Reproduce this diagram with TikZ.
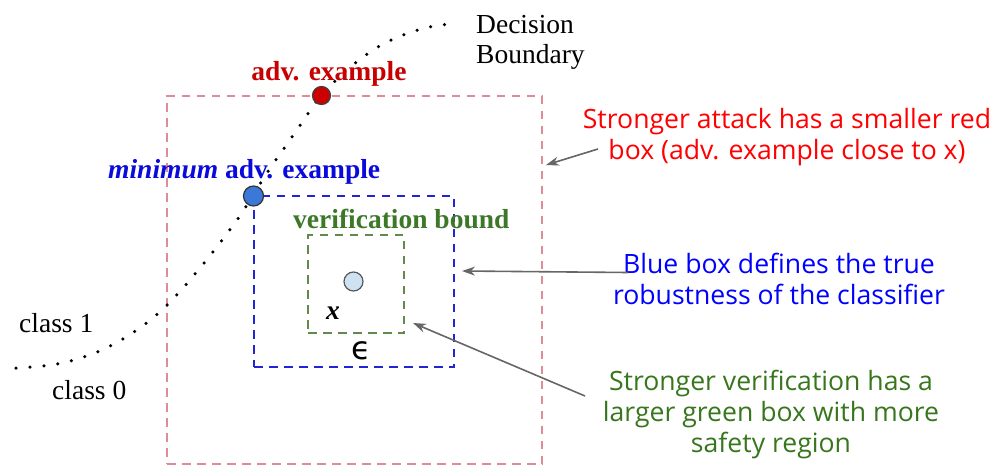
\documentclass[tikz,border=0pt]{standalone}
\usepackage{fontspec}
\setmainfont{Liberation Serif}
\newfontfamily\osans{Open Sans}
\newfontfamily\dejavu{DejaVu Sans}
\usetikzlibrary{arrows.meta}
\definecolor{boxred}{RGB}{222,140,150}
\definecolor{boxblue}{RGB}{35,35,215}
\definecolor{boxgreen}{RGB}{98,138,76}
\definecolor{txtred}{RGB}{255,0,0}
\definecolor{txtblue}{RGB}{0,0,255}
\definecolor{txtgreen}{RGB}{56,118,29}
\definecolor{advred}{RGB}{200,0,0}
\definecolor{advblue}{RGB}{10,10,220}
\definecolor{vgreen}{RGB}{60,120,40}
\definecolor{arrowgray}{RGB}{102,102,102}
\definecolor{ptred}{RGB}{204,0,0}
\definecolor{ptblue}{RGB}{60,120,216}
\definecolor{ptlight}{RGB}{207,226,243}
\tikzset{
  regionbox/.style={rectangle, inner sep=0pt, line width=2pt, dash pattern=on 8.5pt off 6.5pt},
  ptdot/.style={circle, inner sep=0pt, line width=1.2pt},
  pointer/.style={draw=arrowgray, line width=1.6pt, -{Stealth[length=13pt,width=9pt]}},
  serif/.style={font=\fontsize{27.5}{30}\selectfont, inner sep=0pt},
  note/.style={font=\osans\fontsize{26.6}{31}\selectfont, align=center, inner sep=0pt},
  boundary/.style={line width=3.5pt, line cap=round, dash pattern=on 0pt off 14pt}
}
\begin{document}
\begin{tikzpicture}[x=1pt,y=-1pt]
\useasboundingbox (0,0) rectangle (996,466);
% boxes
\node[regionbox, draw=boxred, minimum width=375pt, minimum height=368pt] (rbox) at (354.5,280) {};
\node[regionbox, draw=boxblue, minimum width=200pt, minimum height=171pt] (bbox) at (354,281.5) {};
\node[regionbox, draw=boxgreen, minimum width=96pt, minimum height=98pt] (gbox) at (356,284) {};
% decision boundary
\draw[boundary] plot[smooth, tension=0.6] coordinates {(16,368) (57,364) (97,352) (134,332) (166,306) (200,268) (237,220) (267,173) (299,127) (321,96) (354,64) (389,41) (429,27) (457,24)};
% points
\node[ptdot, draw=black!75, fill=ptred, minimum size=18pt] (adv) at (321.5,95.5) {};
\node[ptdot, draw=black!80, fill=ptblue, minimum size=20pt] (minadv) at (253.5,196) {};
\node[ptdot, draw=black!65, fill=ptlight, minimum size=19pt] (xpt) at (353.5,281.5) {};
% labels
\node[serif, anchor=base west, align=left] (db) at (476,63) {Decision\\Boundary};
\node[serif, anchor=base, text=advred] (advlbl) at (329,80) {\textbf{adv. example}};
\node[serif, anchor=base west, text=advblue] (minlbl) at (108,178) {\textbf{\textit{minimum} adv. example}};
\node[serif, anchor=base west, text=vgreen] (verlbl) at (293,228) {\textbf{verification bound}};
\node[serif, anchor=base] (xlbl) at (333,319) {\textbf{\textit{x}}};
\node[inner sep=0pt, anchor=base, font=\dejavu\fontsize{32}{36}\selectfont] (eps) at (361,359) {ϵ};
\node[serif, anchor=base west] (c1) at (19,332) {class 1};
\node[serif, anchor=base west] (c0) at (52,399) {class 0};
% notes
\node[note, text=txtred, anchor=base] (n1) at (787,159) {Stronger attack has a smaller red\\box (adv. example close to x)};
\node[note, text=txtblue, anchor=base] (n2) at (779,304) {Blue box defines the true\\robustness of the classifier};
\node[note, text=txtgreen, anchor=base] (n3) at (771,452) {Stronger verification has a\\larger green box with more\\safety region};
% pointers
\coordinate (s1) at (598,149);
\coordinate (t1) at (546,165);
\coordinate (s2) at (628,272.5);
\coordinate (t2) at (462,271);
\coordinate (s3) at (585,396);
\coordinate (t3) at (413,323);
\draw[pointer] (s1) -- (t1);
\draw[pointer] (s2) -- (t2);
\draw[pointer] (s3) -- (t3);
\end{tikzpicture}
\end{document}
